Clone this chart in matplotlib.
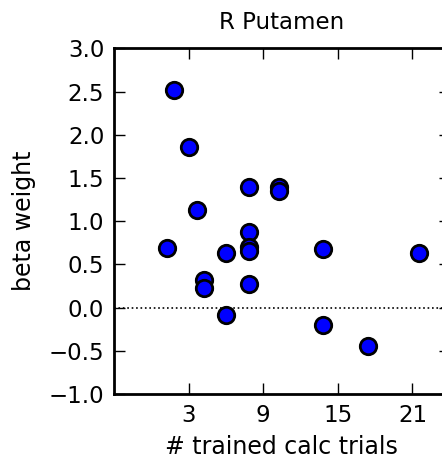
import matplotlib
matplotlib.use("Agg")
import matplotlib.pyplot as plt

x_trials = [1.85, 3.0, 3.67, 1.27, 4.26, 4.26, 6.03, 6.03, 7.85, 7.85, 7.85, 7.85, 7.85,
            10.23, 10.23, 13.82, 13.82, 17.4, 21.56]
beta = [2.52, 1.855, 1.127, 0.695, 0.32, 0.225, 0.63, -0.083, 1.40, 0.873, 0.706, 0.65, 0.275,
        1.40, 1.354, 0.68, -0.2, -0.44, 0.637]
xticks = [3, 9, 15, 21]
yticks = [-1.0, -0.5, 0.0, 0.5, 1.0, 1.5, 2.0, 2.5, 3.0]

plt.rcParams['font.family'] = ['DejaVu Sans']
fig = plt.figure(figsize=(4.42, 4.61), dpi=100)
ax = fig.add_axes([114/442, 1 - 394/461, (449.8 - 114)/442, (394 - 48.3)/461])

ax.axhline(0, color='black', linestyle=':', linewidth=1.2, zorder=1)
ax.scatter(x_trials, beta, s=140, facecolor='#0000ff', edgecolor='black', linewidth=2, zorder=3)

ax.set_xlim(-3, 24)
ax.set_ylim(-1.0, 3.0)
ax.set_xticks(xticks)
ax.set_yticks(yticks)
ax.set_yticklabels([f"{v:.1f}".replace('-', '\u2212') for v in yticks])
ax.tick_params(direction='in', top=True, right=True, length=8, width=1, labelsize=16.5, pad=7)
for s in ax.spines.values():
    s.set_linewidth(2)

ax.set_title('R Putamen', fontsize=16.5, pad=14)
ax.set_xlabel('# trained calc trials', fontsize=17, labelpad=6)
ax.set_ylabel('beta weight', fontsize=17, labelpad=9)

fig.savefig('out.png', dpi=100)
